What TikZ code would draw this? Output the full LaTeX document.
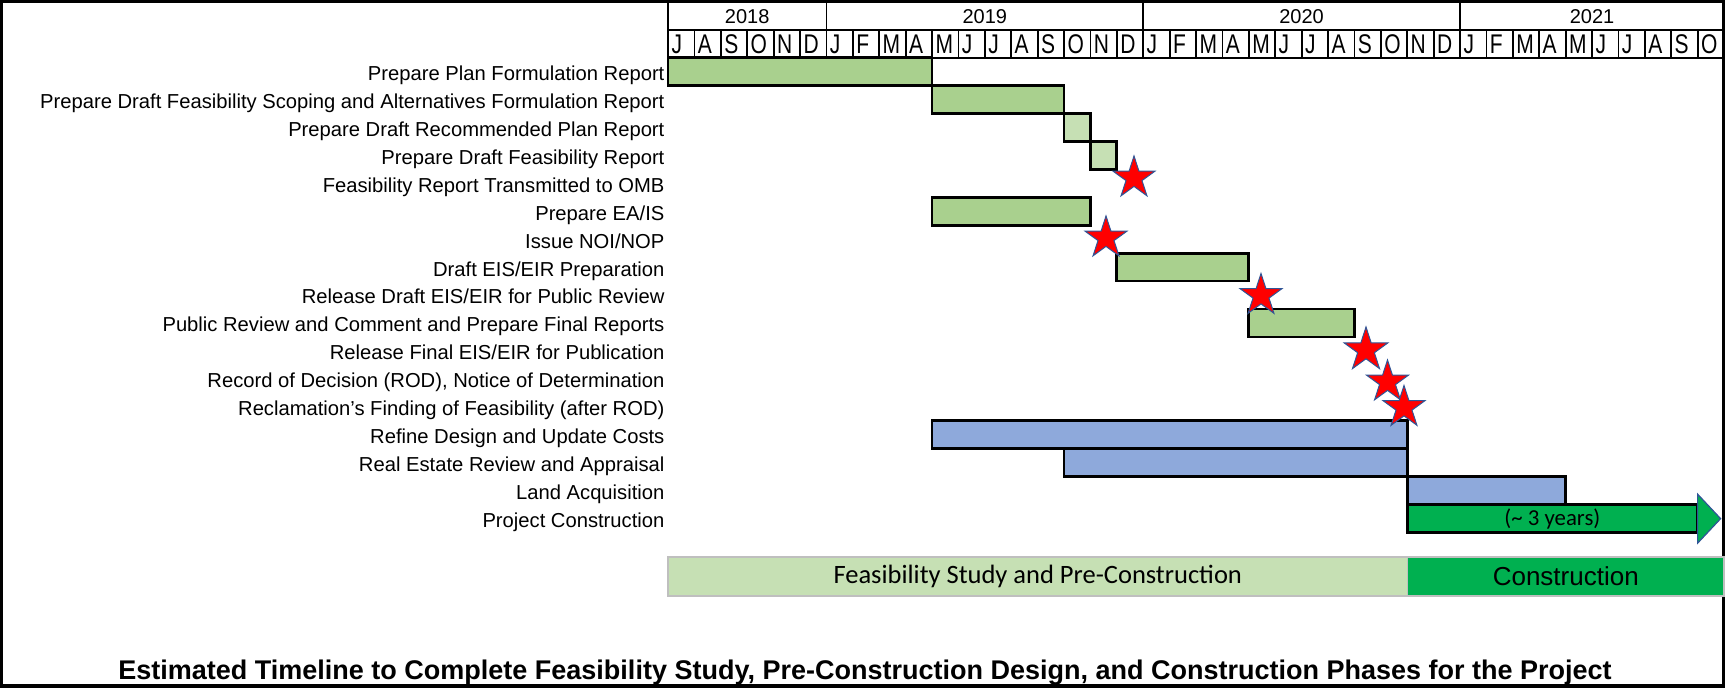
\documentclass[tikz,border=0pt]{standalone}
\usepackage{fontspec}
\setmainfont{Liberation Sans}
\newfontfamily\calib{Carlito}
\usetikzlibrary{shapes.geometric,calc}
\definecolor{bargreen}{HTML}{A9D08E}
\definecolor{lightgreen}{HTML}{C6E0B4}
\definecolor{barblue}{HTML}{8EA9DB}
\definecolor{constgreen}{HTML}{00B050}
\definecolor{starred}{HTML}{FF0000}
\definecolor{starblue}{HTML}{2F5597}
\definecolor{phasegray}{HTML}{BFBFBF}
\newcommand\gbar[5]{\node[gbarbox,fill=#5,minimum width={(#4-#3)*13.2pt}] (#1) at ({668+#3*26.4},{57.5+(#2-1)*27.95}) {};}
\newcommand\glabel[3]{\node[lbl] (#1) at (664.4,{57.5+(#2-0.5)*27.95+8.9}) {#3};}
\begin{document}
\begin{tikzpicture}[x=0.5pt,y=-0.5pt,
  every node/.style={inner sep=0pt,outer sep=0pt},
  lbl/.style={anchor=base east,font=\fontsize{10.1}{12}\selectfont},
  hdr/.style={font=\fontsize{10}{12}\selectfont},
  gridline/.style={line width=0.9pt,black},
  gbarbox/.style={draw=black,line width=1.4pt,minimum height=13.975pt,anchor=north west},
  starmark/.style={star,star points=5,star point ratio=2.618,minimum size=22pt,fill=starred,draw=starblue,line width=0.5pt},
  phasebox/.style={draw=phasegray,line width=0.8pt,minimum height=19.5pt,anchor=north west}]
\useasboundingbox (0,0) rectangle (1725,688);
% outer frame
\draw[line width=1.6pt] (1.5,1.5) rectangle (1723.5,686);
% header grid
\draw[gridline] (668,30) -- (1724,30);
\draw[gridline] (668,58) -- (1724,58);
\foreach \xx in {0,6,18,30} \draw[gridline] ({668+\xx*26.4},1.5) -- ({668+\xx*26.4},30);
\foreach \xx in {0,...,40} \draw[gridline] ({668+\xx*26.4},30) -- ({668+\xx*26.4},58);
% years
\node[hdr,anchor=base] (y2018) at (747.2,23.3) {2018};
\node[hdr,anchor=base] (y2019) at (984.8,23.3) {2019};
\node[hdr,anchor=base] (y2020) at (1301.6,23.3) {2020};
\node[hdr,anchor=base] (y2021) at (1592,23.3) {2021};
% months
\foreach \m [count=\i from 0] in {J,A,S,O,N,D,J,F,M,A,M,J,J,A,S,O,N,D,J,F,M,A,M,J,J,A,S,O,N,D,J,F,M,A,M,J,J,A,S,O}
  \node[hdr,anchor=base west] (m\i) at ({668+\i*26.4+3.5},53.5) {\scalebox{1.05}[1.35]{\m}};
% labels
\glabel{l1}{1}{Prepare Plan Formulation Report}
\glabel{l2}{2}{Prepare Draft Feasibility Scoping and Alternatives Formulation Report}
\glabel{l3}{3}{Prepare Draft Recommended Plan Report}
\glabel{l4}{4}{Prepare Draft Feasibility Report}
\glabel{l5}{5}{Feasibility Report Transmitted to OMB}
\glabel{l6}{6}{Prepare EA/IS}
\glabel{l7}{7}{Issue NOI/NOP}
\glabel{l8}{8}{Draft EIS/EIR Preparation}
\glabel{l9}{9}{Release Draft EIS/EIR for Public Review}
\glabel{l10}{10}{Public Review and Comment and Prepare Final Reports}
\glabel{l11}{11}{Release Final EIS/EIR for Publication}
\glabel{l12}{12}{Record of Decision (ROD), Notice of Determination}
\glabel{l13}{13}{Reclamation's Finding of Feasibility (after ROD)}
\glabel{l14}{14}{Refine Design and Update Costs}
\glabel{l15}{15}{Real Estate Review and Appraisal}
\glabel{l16}{16}{Land Acquisition}
\glabel{l17}{17}{Project Construction}
% bars
\gbar{b1}{1}{0}{10}{bargreen}
\gbar{b2}{2}{10}{15}{bargreen}
\gbar{b3}{3}{15}{16}{lightgreen}
\gbar{b4}{4}{16}{17}{lightgreen}
\gbar{b6}{6}{10}{16}{bargreen}
\gbar{b8}{8}{17}{22}{bargreen}
\gbar{b10}{10}{22}{26}{bargreen}
\gbar{b14}{14}{10}{28}{barblue}
\gbar{b15}{15}{15}{28}{barblue}
\gbar{b16}{16}{28}{34}{barblue}
\node[gbarbox,fill=constgreen,minimum width={11*13.2pt},font=\calib\fontsize{11.4}{13}\selectfont] (pc) at ({668+28*26.4},{57.5+16*27.95}) {(\textasciitilde\ 3 years)};
\filldraw[fill=constgreen,draw=starblue,line width=0.6pt] ($(pc.east)+(0,-24.5)$) -- ($(pc.east)+(23,0)$) -- ($(pc.east)+(0,24.5)$) -- cycle;
% milestones
\node[starmark] (s5) at (1134,178) {};
\node[starmark] (s7) at (1106,238) {};
\node[starmark] (s9) at (1261,295.5) {};
\node[starmark,minimum size=23pt] (s11) at (1366,350) {};
\node[starmark] (s12) at (1387.5,382) {};
\node[starmark] (s13) at (1404,407.5) {};
% phases
\node[phasebox,fill=lightgreen,minimum width={(1407.5-668)*0.5pt},font=\calib\fontsize{13.25}{15}\selectfont] (ph1) at (668,557) {Feasibility Study and Pre-Construction};
\node[phasebox,fill=constgreen,minimum width={(1724-1407.5)*0.5pt},font=\fontsize{13}{15}\selectfont] (ph2) at (1407.5,557) {Construction};
% title
\node[anchor=base,font=\bfseries\fontsize{13.5}{15}\selectfont] (title) at (865,680) {Estimated Timeline to Complete Feasibility Study, Pre-Construction Design, and Construction Phases for the Project};
\end{tikzpicture}
\end{document}
